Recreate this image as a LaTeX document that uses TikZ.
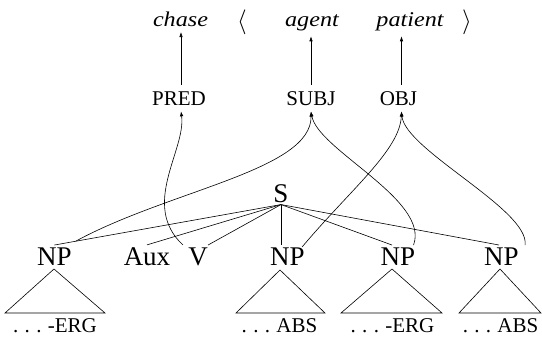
\documentclass[tikz,border=0pt]{standalone}
\usepackage{fontspec}
\setmainfont{Liberation Serif}
\newfontfamily\topfont[FakeStretch=1.15]{Liberation Serif}
\usetikzlibrary{arrows.meta,calc}
\newcommand\spdots{.\kern.3em.\kern.3em.\kern.3em}
\begin{document}
\begin{tikzpicture}[x=1pt,y=-1pt, line width=0.6pt,
  fs/.style={font=\topfont\itshape\fontsize{21}{25}\selectfont, inner sep=5pt, anchor=base},
  brk/.style={font=\fontsize{24.88}{28}\selectfont, inner sep=0pt, anchor=base},
  gf/.style={font=\fontsize{21}{25}\selectfont, inner xsep=2pt, inner ysep=6pt, anchor=base},
  cat/.style={font=\fontsize{27}{32}\selectfont, inner sep=2pt, anchor=base},
  term/.style={font=\fontsize{21}{25}\selectfont, inner sep=2pt, anchor=base},
  arr/.style={-{Latex[length=5pt,width=3.5pt]}}
]
\useasboundingbox (0,0) rectangle (542,338);

% top row
\node[fs] (chase) at (180.5,26.5) {chase};
\node[brk] (lb) at (242,28) {$\langle$};
\node[fs] (agent) at (312,26.5) {agent};
\node[fs] (patient) at (410,26.5) {patient};
\node[brk] (rb) at (467,28) {$\rangle$};

% grammatical functions
\node[gf] (PRED) at (179,105) {PRED};
\node[gf] (SUBJ) at (311,105) {SUBJ};
\node[gf] (OBJ) at (398.5,105) {OBJ};

\draw[arr] ([xshift=2pt]PRED.north) -- ([xshift=2pt]PRED.north |- chase.south);
\draw[arr] (SUBJ.north) -- (SUBJ.north |- agent.south);
\draw[arr] ([xshift=3pt]OBJ.north) -- ([xshift=3pt]OBJ.north |- patient.south);

% tree
\node[cat] (S) at (281,202) {S};
\node[cat] (NP1) at (54.5,265) {NP};
\node[cat] (Aux) at (147,265) {Aux};
\node[cat] (V) at (198,265) {V};
\node[cat] (NP3) at (287.5,265) {NP};
\node[cat] (NP4) at (398,265) {NP};
\node[cat] (NP5) at (501.5,265) {NP};

\draw (S.south) -- (NP1.north);
\draw (S.south) -- (Aux.north);
\draw (S.south) -- ([xshift=-2pt]V.north east);
\draw (S.south) -- (S.south |- NP3.north);
\draw (S.south) -- ([xshift=-6pt]NP4.north);
\draw (S.south) -- ([xshift=-2.5pt]NP5.north);

% terminals
\node[term] (E1) at (55,332) {\spdots-ERG};
\node[term] (A1) at (279.5,332) {\spdots ABS};
\node[term] (E2) at (392.5,332) {\spdots-ERG};
\node[term] (A2) at (500.5,332) {\spdots ABS};

\draw (5,313) -- (54,269) -- (105,313) -- cycle;
\draw (236,313) -- (280,270) -- (325,313) -- cycle;
\draw (341,313) -- (392,269) -- (442,313) -- cycle;
\draw (459,313) -- (500,269) -- (541,313) -- cycle;

% mapping curves
\draw[arr] ([xshift=-3pt]V.north west) .. controls (140,205) and (186,150) .. ([xshift=2pt]PRED.south);
\draw[arr] ([xshift=2pt,yshift=4pt]NP1.north east) .. controls (170,190) and (312,170) .. (SUBJ.south);
\draw[arr] ([xshift=-4pt]NP4.north east) .. controls (430,200) and (318,150) .. (SUBJ.south);
\draw[arr] ([xshift=-5pt,yshift=-2pt]NP3.north east) .. controls (350,190) and (400,150) .. ([xshift=3pt]OBJ.south);
\draw[arr] ([xshift=4pt]NP5.north east) .. controls (530,210) and (405,150) .. ([xshift=3pt]OBJ.south);
\end{tikzpicture}
\end{document}
